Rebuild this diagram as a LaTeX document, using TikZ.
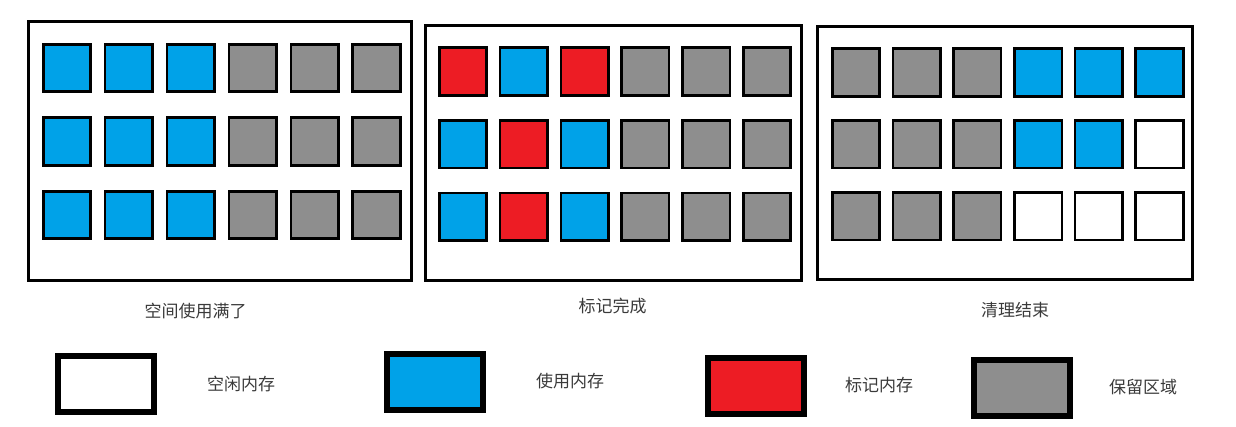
\documentclass[tikz,border=0pt]{standalone}
\usepackage{fontspec}
\newfontfamily\cjk{Noto Sans CJK SC}
\usepackage{tikz}
\usetikzlibrary{positioning}

\definecolor{memfree}{HTML}{FFFFFF}
\definecolor{memused}{HTML}{00A2E8}
\definecolor{memmark}{HTML}{ED1C24}
\definecolor{memkeep}{HTML}{8E8E8E}
\definecolor{txtgray}{HTML}{3A3A3A}

\begin{document}
\begin{tikzpicture}[
  x=1pt,y=-1pt,
  font=\cjk\fontsize{17}{19}\selectfont,
  cell/.style={draw=black,line width=2.6pt,minimum size=47.5pt,inner sep=0pt},
  panel/.style={draw=black,line width=3pt,inner sep=0pt},
  legbox/.style={draw=black,line width=6pt,minimum width=96pt,minimum height=56pt,inner sep=0pt},
  captxt/.style={text=txtgray,inner sep=0pt},
  legtxt/.style={text=txtgray,inner sep=0pt,anchor=west}
]
\useasboundingbox (0,0) rectangle (1236,426);

% frames
\node[panel,minimum width=383pt,minimum height=259pt] (fa) at (220,151) {};
\node[panel,minimum width=376pt,minimum height=255pt] (fb) at (613.5,153) {};
\node[panel,minimum width=375pt,minimum height=253pt] (fc) at (1005,153) {};

% space used up
\foreach \cols [count=\r] in {{memused,memused,memused,memkeep,memkeep,memkeep},
    {memused,memused,memused,memkeep,memkeep,memkeep},
    {memused,memused,memused,memkeep,memkeep,memkeep}}
  \foreach \c [count=\k] in \cols
    \node[cell,fill=\c] (a-\r-\k) at ({67+61.9*(\k-1)},{68+73.5*(\r-1)}) {};

% marking done
\foreach \cols [count=\r] in {{memmark,memused,memmark,memkeep,memkeep,memkeep},
    {memused,memmark,memused,memkeep,memkeep,memkeep},
    {memused,memmark,memused,memkeep,memkeep,memkeep}}
  \foreach \c [count=\k] in \cols
    \node[cell,fill=\c] (b-\r-\k) at ({463+60.8*(\k-1)},{71.5+72.7*(\r-1)}) {};

% sweeping done
\foreach \cols [count=\r] in {{memkeep,memkeep,memkeep,memused,memused,memused},
    {memkeep,memkeep,memkeep,memused,memused,memfree},
    {memkeep,memkeep,memkeep,memfree,memfree,memfree}}
  \foreach \c [count=\k] in \cols
    \node[cell,fill=\c] (c-\r-\k) at ({856+60.7*(\k-1)},{72.5+71.8*(\r-1)}) {};

% captions
\node[captxt] (lbl-a) at (195.5,311) {空间使用满了};
\node[captxt] (lbl-b) at (612.5,306) {标记完成};
\node[captxt] (lbl-c) at (1015,310) {清理结束};

% legend
\node[legbox,fill=memfree] (leg-free) at (106,384) {};
\node[legtxt,right=50pt of leg-free] (txt-free) {空闲内存};
\node[legbox,fill=memused] (leg-used) at (435,381.5) {};
\node[legtxt,right=50pt of leg-used] (txt-used) {使用内存};
\node[legbox,fill=memmark] (leg-mark) at (756,385.5) {};
\node[legtxt,right=38pt of leg-mark] (txt-mark) {标记内存};
\node[legbox,fill=memkeep] (leg-keep) at (1022,387.5) {};
\node[legtxt,right=36pt of leg-keep] (txt-keep) {保留区域};
\end{tikzpicture}
\end{document}
